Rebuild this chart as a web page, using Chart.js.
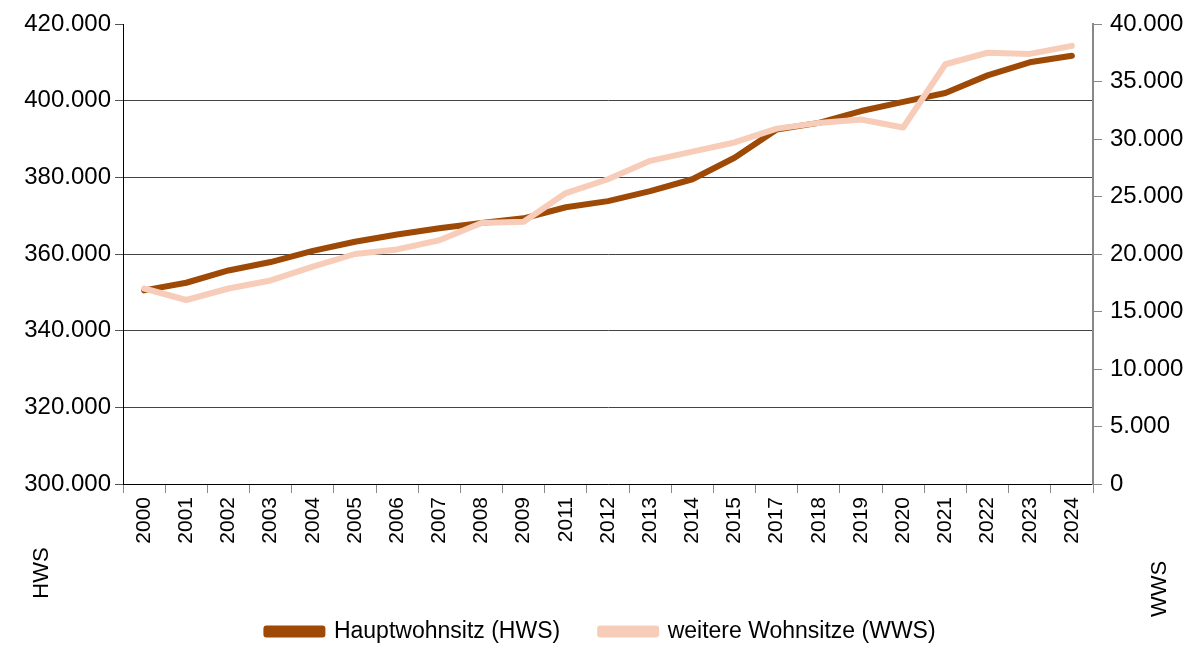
<!DOCTYPE html>
<html>
<head>
<meta charset="utf-8">
<script src="https://cdn.jsdelivr.net/npm/chart.js"></script>
<style>
  html, body { margin: 0; padding: 0; background: #fff; }
  #wrap { width: 1202px; height: 648px; }
</style>
</head>
<body>
<div id="wrap"><canvas id="graph" width="1202" height="648"></canvas></div>
<script>
// years (2010 and 2016 are not in the source)
const years = ["2000", "2001", "2002", "2003", "2004", "2005", "2006", "2007", "2008", "2009",
    "2011", "2012", "2013", "2014", "2015", "2017", "2018", "2019", "2020", "2021", "2022", "2023", "2024"];

// Hauptwohnsitz, left axis
const hws = [350500, 352500, 355700, 357900, 360800, 363200, 365100, 366700, 368100, 369300,
    372200, 373800, 376400, 379500, 385100, 392500, 394200, 397300, 399700, 402000, 406600, 410000, 411700];

// weitere Wohnsitze, right axis
const wws = [17000, 16000, 17000, 17700, 18900, 20000, 20400, 21200, 22700, 22800,
    25300, 26500, 28100, 28900, 29700, 30900, 31400, 31700, 31000, 36500, 37500, 37400, 38100];

const hwsTicks = [300000, 320000, 340000, 360000, 380000, 400000, 420000];
const wwsTicks = [0, 5000, 10000, 15000, 20000, 25000, 30000, 35000, 40000];

const brown = "#9e4a06";
const peach = "#f7cdb9";
const fontName = "'Liberation Sans', Arial, sans-serif";

function dots(v) {
    // german thousands separator
    return String(v).replace(/\B(?=(\d{3})+(?!\d))/g, ".");
}

// the two axis titles sit below the plot in the original
const axisTitles = {
    id: "axisTitles",
    afterDraw(chart) {
        const c = chart.ctx;
        c.save();
        c.fillStyle = "#000";
        c.font = "22px " + fontName;
        c.textAlign = "center";
        c.textBaseline = "middle";
        c.translate(42, 573);
        c.rotate(-Math.PI / 2);
        c.fillText("HWS", 0, 0);
        c.restore();
        c.save();
        c.fillStyle = "#000";
        c.font = "22px " + fontName;
        c.textAlign = "center";
        c.textBaseline = "middle";
        c.translate(1160, 589);
        c.rotate(-Math.PI / 2);
        c.fillText("WWS", 0, 0);
        c.restore();
    }
};

const ctx = document.getElementById("graph").getContext("2d");

const dataChart = new Chart(ctx, {
    type: "line",
    data: {
        labels: years,
        datasets: [
            {
                label: "Hauptwohnsitz (HWS)",
                data: hws,
                yAxisID: "y",
                borderColor: brown,
                backgroundColor: brown,
                borderWidth: 6,
                order: 1
            },
            {
                label: "weitere Wohnsitze (WWS)",
                data: wws,
                yAxisID: "y1",
                borderColor: peach,
                backgroundColor: peach,
                borderWidth: 6,
                order: 0
            }
        ]
    },
    options: {
        responsive: false,
        animation: false,
        layout: { padding: { top: 24, left: 0, right: 0, bottom: -5 } },
        elements: {
            point: { radius: 0 },
            line: { tension: 0, borderCapStyle: "round", borderJoinStyle: "round" }
        },
        plugins: {
            tooltip: { enabled: false },
            legend: {
                position: "bottom",
                labels: {
                    color: "#000",
                    font: { family: fontName, size: 23 },
                    boxWidth: 56,
                    boxHeight: 6,
                    padding: 40,
                    sort: (a, b) => a.datasetIndex - b.datasetIndex
                }
            }
        },
        scales: {
            x: {
                offset: true,
                grid: {
                    offset: true,
                    drawOnChartArea: false,
                    color: "#888",
                    tickLength: 9
                },
                border: { color: "#000", width: 1 },
                ticks: {
                    color: "#000",
                    font: { family: fontName, size: 21 },
                    maxRotation: 90,
                    minRotation: 90,
                    autoSkip: false,
                    padding: 4
                },
                afterFit(scale) { scale.height = 96; }
            },
            y: {
                position: "left",
                min: 300000,
                max: 420000,
                afterBuildTicks(scale) { scale.ticks = hwsTicks.map(v => ({ value: v })); },
                grid: {
                    color: ctx => (ctx.tick && (ctx.tick.value === 420000 || ctx.tick.value === 300000)) ? "rgba(0,0,0,0)" : "#444",
                    tickColor: "#555",
                    tickLength: 8
                },
                border: { color: "#000", width: 1 },
                ticks: {
                    color: "#000",
                    font: { family: fontName, size: 24 },
                    padding: 4,
                    callback: v => dots(v)
                },
                afterFit(scale) { scale.width = 123; }
            },
            y1: {
                position: "right",
                min: 0,
                max: 40000,
                afterBuildTicks(scale) { scale.ticks = wwsTicks.map(v => ({ value: v })); },
                grid: {
                    drawOnChartArea: false,
                    tickColor: "#888",
                    tickLength: 9
                },
                border: { color: "#888", width: 2 },
                ticks: {
                    color: "#000",
                    font: { family: fontName, size: 24 },
                    padding: 8,
                    callback: v => dots(v)
                },
                afterFit(scale) { scale.width = 109; }
            }
        }
    },
    plugins: [axisTitles]
});
</script>
</body>
</html>
